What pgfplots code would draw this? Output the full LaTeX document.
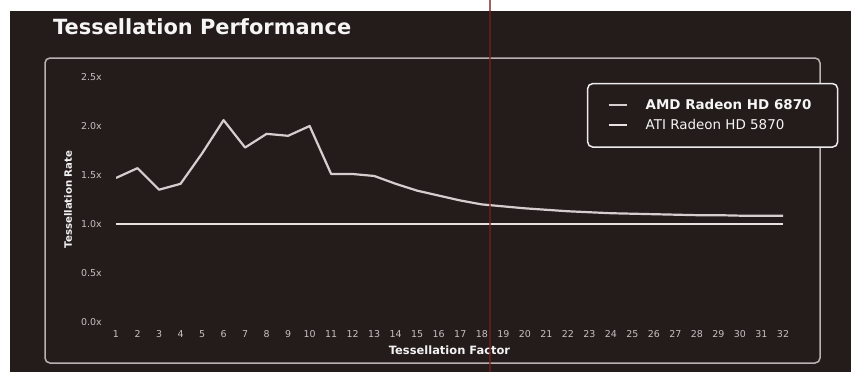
\documentclass[border=0pt]{standalone}
\usepackage{fontspec}
\setmainfont{DejaVu Sans}
\usepackage{pgfplots}
\pgfplotsset{compat=1.18}
\definecolor{panel}{RGB}{36,27,27}
\definecolor{linea}{RGB}{214,206,206}
\definecolor{lineb}{RGB}{230,226,226}
\definecolor{ticktxt}{RGB}{200,192,192}
\definecolor{frame}{RGB}{185,178,178}
\definecolor{scanred}{RGB}{120,30,30}
\begin{document}
\begin{tikzpicture}[x=1bp,y=1bp]
\useasboundingbox (0,0) rectangle (851,372);
\fill[white] (0,0) rectangle (851,372);
\fill[panel] (10,0) rectangle (851,361);
\node[anchor=base west, inner sep=0pt, text=white!92!gray, font=\fontsize{21}{24}\selectfont\bfseries] at (53,338) {Tessellation Performance};
\draw[frame, line width=1.5bp, rounded corners=5bp] (45,314) rectangle (820,9);
\begin{axis}[
  at={(116bp,50bp)}, anchor=south west,
  scale only axis, width=667bp, height=245bp,
  xmin=1, xmax=32, ymin=0, ymax=2.5,
  axis line style={draw=none},
  major tick length=0pt,
  xtick={1,...,32},
  ytick={0,0.5,1,1.5,2,2.5},
  yticklabels={0.0x,0.5x,1.0x,1.5x,2.0x,2.5x},
  /pgf/number format/assume math mode=true,
  tick label style={font=\fontsize{9.5}{11}\selectfont, text=ticktxt},
  yticklabel style={inner sep=0pt, xshift=-14bp},
  xticklabel style={inner sep=0pt, yshift=-8bp},
  xlabel={Tessellation Factor},
  ylabel={Tessellation Rate},
  label style={text=white!90!gray},
  xlabel style={font=\fontsize{11.5}{13}\selectfont\bfseries, at={(axis description cs:0.5,0)}, anchor=center, yshift=-28bp},
  ylabel style={font=\fontsize{10.2}{12}\selectfont\bfseries, at={(axis description cs:0,0.5)}, anchor=center, yshift=48bp},
  legend style={at={(axis description cs:0.706,0.976)}, anchor=north west,
    fill=panel, draw=white!85!gray, line width=1.5bp, rounded corners=5bp,
    font=\fontsize{13.5}{16}\selectfont, text=white!92!gray,
    inner xsep=14bp, inner ysep=14bp, row sep=4bp},
  legend cell align=left,
  legend image code/.code={\path[draw=none,fill=none] (0bp,0bp) -- (42bp,0bp); \draw[#1, line width=2bp] (7bp,0bp) -- (25bp,0bp);},
]
\addplot[linea, line width=2.2bp, line join=round] coordinates {
(1,1.47) (2,1.57) (3,1.35) (4,1.41) (5,1.72) (6,2.06) (7,1.78) (8,1.92)
(9,1.90) (10,2.00) (11,1.51) (12,1.51) (13,1.49) (14,1.41) (15,1.34) (16,1.29)
(17,1.24) (18,1.20) (19,1.18) (20,1.16) (21,1.145) (22,1.13) (23,1.12) (24,1.11)
(25,1.105) (26,1.10) (27,1.095) (28,1.09) (29,1.09) (30,1.085) (31,1.085) (32,1.085)};
\addlegendentry{\makebox[176bp][l]{\textbf{AMD Radeon HD 6870}}}
\addplot[lineb, line width=2.6bp] coordinates {
(1,1) (2,1) (3,1) (4,1) (5,1) (6,1) (7,1) (8,1) (9,1) (10,1) (11,1) (12,1)
(13,1) (14,1) (15,1) (16,1) (17,1) (18,1) (19,1) (20,1) (21,1) (22,1) (23,1)
(24,1) (25,1) (26,1) (27,1) (28,1) (29,1) (30,1) (31,1) (32,1)};
\addlegendentry{ATI Radeon HD 5870}
\end{axis}
\draw[scanred, line width=1.2bp, opacity=0.7] (490,0) -- (490,372);
\end{tikzpicture}
\end{document}
